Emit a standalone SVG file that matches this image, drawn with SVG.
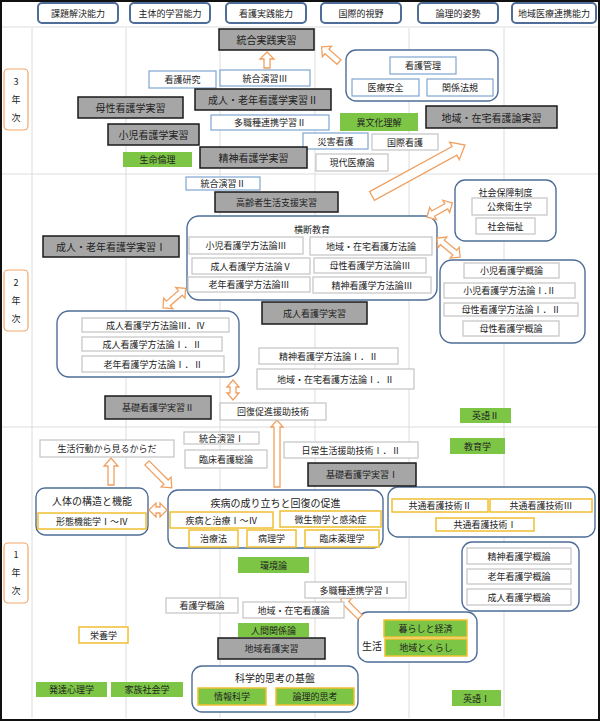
<svg xmlns="http://www.w3.org/2000/svg" width="600" height="722" viewBox="0 0 600 722">
<style>
text{font-family:"Noto Sans CJK JP","Noto Sans CJK SC",sans-serif;font-size:9px;fill:#222;text-anchor:middle;dominant-baseline:central}
.g{fill:#a6a6a6;stroke:#1a1a1a;stroke-width:1.5}
.b{fill:#fff;stroke:#7fa6d0;stroke-width:1.2}
.w{fill:#fff;stroke:#c4c4c4;stroke-width:1.2}
.gr{fill:#7cc545}
.gy{fill:#7cc545;stroke:#f0c030;stroke-width:1.5}
.y{fill:#fff;stroke:#f0c030;stroke-width:1.5}
.grp{fill:#fff;stroke:#4e6d98;stroke-width:1.4}
.hd{fill:#fff;stroke:#4e6d98;stroke-width:2}
.yr{fill:#fff;stroke:#f0a868;stroke-width:1.2}
.ar{fill:#fff;stroke:#f0a060;stroke-width:1.3}
.grid{stroke:#dcdcdc;stroke-width:1}
.lg{font-size:10px}
</style>
<rect x="0" y="0" width="600" height="722" fill="#fff"/>
<g id="grid">
<line class="grid" x1="32" y1="28" x2="32" y2="718"/>
<line class="grid" x1="126" y1="28" x2="126" y2="718"/>
<line class="grid" x1="220" y1="28" x2="220" y2="718"/>
<line class="grid" x1="315" y1="28" x2="315" y2="718"/>
<line class="grid" x1="409" y1="28" x2="409" y2="718"/>
<line class="grid" x1="504" y1="28" x2="504" y2="718"/>
<line class="grid" x1="2" y1="27" x2="598" y2="27"/>
<line class="grid" x1="2" y1="174" x2="598" y2="174"/>
<line class="grid" x1="2" y1="427" x2="598" y2="427"/>
</g>
<g id="headers">
<rect class="hd" x="38" y="3" width="80" height="20" rx="4"/><text x="78" y="13">課題解決能力</text>
<rect class="hd" x="130" y="3" width="80" height="20" rx="4"/><text x="170" y="13">主体的学習能力</text>
<rect class="hd" x="226" y="3" width="80" height="20" rx="4"/><text x="266" y="13">看護実践能力</text>
<rect class="hd" x="321" y="3" width="80" height="20" rx="4"/><text x="361" y="13">国際的視野</text>
<rect class="hd" x="418" y="3" width="80" height="20" rx="4"/><text x="458" y="13">論理的姿勢</text>
<rect class="hd" x="512" y="3" width="84" height="20" rx="4"/><text x="554" y="13">地域医療連携能力</text>
</g>
<g id="years">
<rect class="yr" x="4" y="69" width="24" height="61" rx="4"/><text x="16" y="81">3</text><text x="16" y="99">年</text><text x="16" y="117">次</text>
<rect class="yr" x="4" y="270" width="24" height="61" rx="4"/><text x="16" y="282">2</text><text x="16" y="300">年</text><text x="16" y="318">次</text>
<rect class="yr" x="4" y="543" width="24" height="60" rx="4"/><text x="16" y="554">1</text><text x="16" y="572">年</text><text x="16" y="590">次</text>
</g>
<g id="groups">
<rect class="grp" x="346" y="50" width="152" height="51" rx="10"/>
<rect class="grp" x="455" y="180" width="101" height="61" rx="10"/><text x="505.5" y="192">社会保障制度</text>
<rect class="grp" x="187" y="216" width="250" height="84" rx="12"/><text x="312" y="229">横断教育</text>
<rect class="grp" x="440" y="260" width="145" height="83" rx="12"/>
<rect class="grp" x="57" y="311" width="182" height="66" rx="12"/>
<rect class="grp" x="36" y="488" width="112" height="47" rx="9"/><text x="92" y="500" class="lg">人体の構造と機能</text>
<rect class="grp" x="168" y="490" width="215" height="58" rx="10"/><text x="275.5" y="502" class="lg">疾病の成り立ちと回復の促進</text>
<rect class="grp" x="388" y="487" width="207" height="50" rx="10"/>
<rect class="grp" x="462" y="542" width="117" height="69" rx="10"/>
<rect class="grp" x="358" y="612" width="119" height="50" rx="10"/><text x="372" y="645" class="lg">生活</text>
<rect class="grp" x="192" y="666" width="166" height="46" rx="10"/><text x="275" y="677" class="lg">科学的思考の基盤</text>
</g>
<g id="connectors">
<path class="ar" transform="translate(267,68) rotate(-90)" d="M0,-3H9V-7L16,0L9,7V3H0Z"/>
<path class="ar" transform="translate(339,62) rotate(221)" d="M0,-3H16V-7L23,0L16,7V3H0Z"/>
<path class="ar" transform="translate(372,196) rotate(-28.7)" d="M0,-5H94V-10L106,0L94,10V5H0Z"/>
<path class="ar" transform="translate(427,217) rotate(-29)" d="M0,0L7,-7V-3H22V-7L29,0L22,7V3H7V7Z"/>
<path class="ar" transform="translate(437,238) rotate(39.6)" d="M0,0L7,-7V-3H23V-7L30,0L23,7V3H7V7Z"/>
<path class="ar" transform="translate(163,308) rotate(-41)" d="M0,0L7,-7V-3H23V-7L30,0L23,7V3H7V7Z"/>
<path class="ar" transform="translate(233,380) rotate(90)" d="M0,0L7,-6V-3H13V-6L20,0L13,6V3H7V6Z"/>
<path class="ar" transform="translate(277,487) rotate(-90)" d="M0,-3H60V-6L67,0L60,6V3H0Z"/>
<path class="ar" transform="translate(111,485) rotate(-90)" d="M0,-3H19V-7L27,0L19,7V3H0Z"/>
<path class="ar" transform="translate(147,463) rotate(45)" d="M0,-3H27V-7L35,0L27,7V3H0Z"/>
<path class="ar" transform="translate(149,510)" d="M0,0L7,-7V-3H11V-7L18,0L11,7V3H7V7Z"/>
<path class="ar" transform="translate(360,617) rotate(225)" d="M0,-3H19V-7L27,0L19,7V3H0Z"/>
</g>
<g id="nodes">
<rect class="g" x="219" y="29" width="95" height="21"/><text x="266.5" y="39.5" class="lg">統合実践実習</text>
<rect class="b" x="390" y="57" width="66" height="17"/><text x="423" y="65.5">看護管理</text>
<rect class="b" x="352" y="79" width="67" height="17"/><text x="385.5" y="87.5">医療安全</text>
<rect class="b" x="427" y="79" width="66" height="17"/><text x="460" y="87.5">関係法規</text>
<rect class="b" x="149" y="71" width="67" height="17"/><text x="182.5" y="79.5">看護研究</text>
<rect class="b" x="220" y="70" width="90" height="16"/><text x="265" y="78">統合演習Ⅲ</text>
<rect class="g" x="195" y="89" width="136" height="21"/><text x="263" y="99.5" class="lg">成人・老年看護学実習Ⅱ</text>
<rect class="g" x="78" y="97" width="105" height="21"/><text x="130.5" y="107.5" class="lg">母性看護学実習</text>
<rect class="b" x="211" y="115" width="118" height="15"/><text x="270" y="122.5">多職種連携学習Ⅱ</text>
<rect class="gr" x="340" y="113" width="78" height="18"/><text x="379" y="122">異文化理解</text>
<rect class="g" x="426" y="106" width="131" height="22"/><text x="491.5" y="117" class="lg">地域・在宅看護論実習</text>
<rect class="g" x="108" y="124" width="91" height="21"/><text x="153.5" y="134.5" class="lg">小児看護学実習</text>
<rect class="b" x="303" y="133" width="65" height="16"/><text x="335.5" y="141">災害看護</text>
<rect class="w" x="372" y="134" width="66" height="16"/><text x="405" y="142" font-size="8">国際看護</text>
<rect class="gr" x="123" y="152" width="69" height="15"/><text x="157.5" y="159.5">生命倫理</text>
<rect class="g" x="200" y="147" width="107" height="21"/><text x="253.5" y="157.5" class="lg">精神看護学実習</text>
<rect class="w" x="316" y="154" width="72" height="17"/><text x="352" y="162.5">現代医療論</text>
<rect class="b" x="186" y="177" width="74" height="13"/><text x="223" y="183.5">統合演習Ⅱ</text>
<rect class="g" x="215" y="192" width="123" height="20"/><text x="276.5" y="202">高齢者生活支援実習</text>
<rect class="w" x="472" y="198" width="75" height="17"/><text x="509.5" y="206.5" font-size="8">公衆衛生学</text>
<rect class="w" x="476" y="218" width="59" height="16"/><text x="505.5" y="226" font-size="8">社会福祉</text>
<rect class="w" x="189" y="237" width="114" height="17"/><text x="246" y="245.5">小児看護学方法論Ⅲ</text>
<rect class="w" x="310" y="237" width="122" height="18"/><text x="371" y="246">地域・在宅看護方法論</text>
<rect class="w" x="192" y="258" width="118" height="16"/><text x="251" y="266">成人看護学方法論Ⅴ</text>
<rect class="w" x="314" y="258" width="112" height="15"/><text x="370" y="265.5">母性看護学方法論Ⅲ</text>
<rect class="w" x="188" y="277" width="122" height="15"/><text x="249" y="284.5">老年看護学方法論Ⅲ</text>
<rect class="w" x="313" y="277" width="118" height="16"/><text x="372" y="285">精神看護学方法論Ⅲ</text>
<rect class="g" x="43" y="236" width="136" height="21"/><text x="111" y="246.5" class="lg">成人・老年看護学実習Ⅰ</text>
<rect class="w" x="464" y="263" width="95" height="15"/><text x="511.5" y="270.5">小児看護学概論</text>
<rect class="w" x="444" y="283" width="131" height="15"/><text x="509.5" y="290.5">小児看護学方法論Ⅰ.Ⅱ</text>
<rect class="w" x="444" y="303" width="134" height="13"/><text x="511" y="309.5">母性看護学方法論Ⅰ．Ⅱ</text>
<rect class="w" x="463" y="321" width="96" height="15"/><text x="511" y="328.5">母性看護学概論</text>
<rect class="g" x="262" y="302" width="105" height="22"/><text x="314.5" y="313">成人看護学実習</text>
<rect class="w" x="82" y="318" width="147" height="14"/><text x="155.5" y="325">成人看護学方法論Ⅲ．Ⅳ</text>
<rect class="w" x="82" y="337" width="140" height="14"/><text x="152" y="344">成人看護学方法論Ⅰ．Ⅱ</text>
<rect class="w" x="82" y="356" width="142" height="16"/><text x="153" y="364">老年看護学方法論Ⅰ．Ⅱ</text>
<rect class="w" x="259" y="348" width="139" height="16"/><text x="328.5" y="356">精神看護学方法論Ⅰ．Ⅱ</text>
<rect class="w" x="257" y="369" width="157" height="20"/><text x="335.5" y="379">地域・在宅看護方法論Ⅰ．Ⅱ</text>
<rect class="g" x="105" y="396" width="106" height="23"/><text x="158" y="407.5">基礎看護学実習Ⅱ</text>
<rect class="w" x="220" y="403" width="106" height="17"/><text x="273" y="411.5">回復促進援助技術</text>
<rect class="gr" x="460" y="408" width="51" height="15"/><text x="485.5" y="415.5">英語Ⅱ</text>
<rect class="w" x="184" y="432" width="75" height="12"/><text x="221.5" y="438">統合演習Ⅰ</text>
<rect class="w" x="40" y="440" width="134" height="17"/><text x="107" y="448.5">生活行動から見るからだ</text>
<rect class="w" x="185" y="450" width="82" height="18"/><text x="226" y="459">臨床看護総論</text>
<rect class="w" x="284" y="442" width="134" height="16"/><text x="351" y="450">日常生活援助技術Ⅰ．Ⅱ</text>
<rect class="gr" x="450" y="438" width="55" height="16"/><text x="477.5" y="446">教育学</text>
<rect class="g" x="308" y="463" width="108" height="23"/><text x="362" y="474.5">基礎看護学実習Ⅰ</text>
<rect class="y" x="38" y="513" width="108" height="16"/><text x="92" y="521" font-size="8">形態機能学Ⅰ～Ⅳ</text>
<rect class="y" x="170" y="512" width="103" height="16"/><text x="221.5" y="520" font-size="8">疾病と治療Ⅰ～Ⅳ</text>
<rect class="y" x="280" y="511" width="101" height="16"/><text x="330.5" y="519" font-size="8">微生物学と感染症</text>
<rect class="y" x="189" y="530" width="49" height="17"/><text x="213.5" y="538.5" font-size="8">治療法</text>
<rect class="y" x="247" y="530" width="49" height="17"/><text x="271.5" y="538.5" font-size="8">病理学</text>
<rect class="y" x="305" y="530" width="74" height="17"/><text x="342" y="538.5" font-size="8">臨床薬理学</text>
<rect class="y" x="392" y="499" width="96" height="13"/><text x="440" y="505.5" font-size="8">共通看護技術Ⅱ</text>
<rect class="y" x="490" y="499" width="102" height="13"/><text x="541" y="505.5" font-size="8">共通看護技術Ⅲ</text>
<rect class="y" x="436" y="518" width="98" height="13"/><text x="485" y="524.5" font-size="8">共通看護技術Ⅰ</text>
<rect class="gr" x="238" y="557" width="71" height="16"/><text x="273.5" y="565" font-size="8">環境論</text>
<rect class="w" x="467" y="548" width="104" height="16"/><text x="519" y="556">精神看護学概論</text>
<rect class="w" x="467" y="569" width="104" height="15"/><text x="519" y="576.5">老年看護学概論</text>
<rect class="w" x="467" y="589" width="104" height="16"/><text x="519" y="597">成人看護学概論</text>
<rect class="w" x="305" y="582" width="101" height="16"/><text x="355.5" y="590">多職種連携学習Ⅰ</text>
<rect class="w" x="166" y="598" width="72" height="15"/><text x="202" y="605.5">看護学概論</text>
<rect class="w" x="243" y="602" width="101" height="16"/><text x="293.5" y="610">地域・在宅看護論</text>
<rect class="gy" x="384" y="620" width="83" height="17"/><text x="425.5" y="628.5" font-size="8">暮らしと経済</text>
<rect class="gy" x="385" y="639" width="82" height="17"/><text x="426" y="647.5" font-size="8">地域とくらし</text>
<rect class="y" x="79" y="627" width="49" height="16"/><text x="103.5" y="635">栄養学</text>
<rect class="gr" x="238" y="623" width="71" height="14"/><text x="273.5" y="630" font-size="8">人間関係論</text>
<rect class="g" x="218" y="638" width="107" height="21"/><text x="271.5" y="648.5">地域看護実習</text>
<rect class="gy" x="198" y="688" width="68" height="17"/><text x="232" y="696.5" font-size="8">情報科学</text>
<rect class="gy" x="276" y="688" width="78" height="17"/><text x="315" y="696.5" font-size="8">論理的思考</text>
<rect class="gr" x="36" y="682" width="71" height="15"/><text x="71.5" y="689.5" font-size="8">発達心理学</text>
<rect class="gr" x="111" y="682" width="72" height="15"/><text x="147" y="689.5" font-size="8">家族社会学</text>
<rect class="gr" x="452" y="690" width="49" height="16"/><text x="476.5" y="698">英語Ⅰ</text>
</g>
<rect x="1" y="1" width="598" height="719" fill="none" stroke="#111" stroke-width="2"/>
</svg>
